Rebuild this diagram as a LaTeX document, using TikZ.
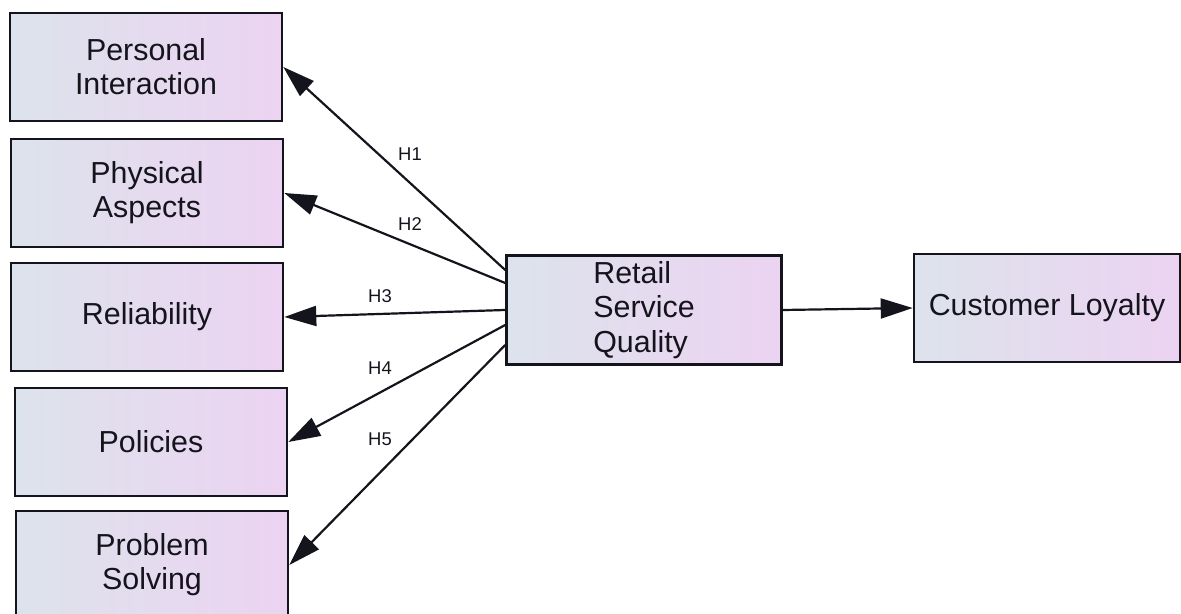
\documentclass[tikz,border=0pt]{standalone}
\usepackage{fontspec}
\setmainfont{Liberation Sans}
\usetikzlibrary{arrows.meta}
\definecolor{boxleft}{HTML}{DDE3EC}
\definecolor{boxright}{HTML}{ECD3F2}
\definecolor{ink}{HTML}{14141C}
\begin{document}
\begin{tikzpicture}[x=0.02cm, y=-0.02cm,
      box/.style={draw=ink, line width=1.5pt, left color=boxleft, right color=boxright,
        minimum width=5.44cm, minimum height=2.16cm, align=center,
        font=\fontsize{17.3}{19.5}\selectfont, text=ink},
      lbl/.style={font=\fontsize{10.5}{12}\selectfont, text=ink},
      link/.style={draw=ink, line width=1.25pt, -{Triangle[length=0.64cm,width=0.4cm]}}]
      \useasboundingbox (0,0) rectangle (1181,614);
      \node[box] (pi) at (146,67) {Personal\\Interaction};
      \node[box] (pa) at (147,193) {Physical\\Aspects};
      \node[box] (rel) at (147,317) {Reliability};
      \node[box] (pol) at (151,442) {Policies};
      \node[box] (ps) at (152,565) {Problem\\Solving};
      \node[box, minimum width=5.5cm, align=left] (rsq) at (644,310) {Retail\\Service\\Quality};
      \node[box, minimum width=5.32cm] (cl) at (1047,308) {Customer Loyalty};
      % hypotheses
      \draw[link] ([yshift=0.8cm]rsq.west) -- (pi.east);
      \draw[link] ([yshift=0.54cm]rsq.west) -- (pa.east);
      \draw[link] (rsq.west) -- (rel.east);
      \draw[link] ([yshift=-0.3cm]rsq.west) -- (pol.east);
      \draw[link] ([yshift=-0.7cm]rsq.west) -- (ps.east);
      \draw[link] (rsq.east) -- (cl.west);
      \node[lbl] (h1) at (410,154) {H1};
      \node[lbl] (h2) at (410,224) {H2};
      \node[lbl] (h3) at (380,296) {H3};
      \node[lbl] (h4) at (380,368) {H4};
      \node[lbl] (h5) at (380,439) {H5};
\end{tikzpicture}
\end{document}
